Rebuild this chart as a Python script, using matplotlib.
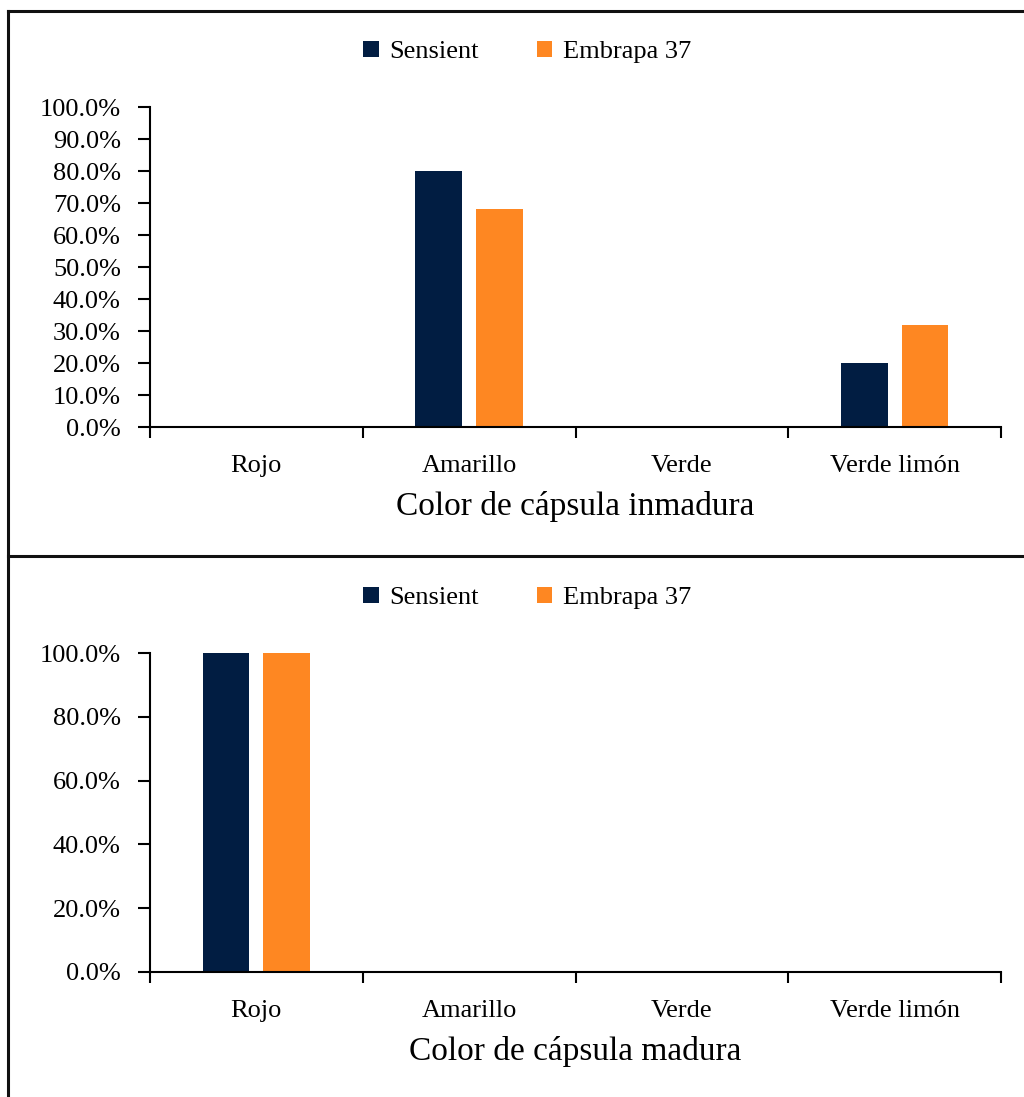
import matplotlib.pyplot as plt  # To draw the bar charts
from matplotlib.lines import Line2D  # To draw the frame around the panels
from matplotlib.ticker import FuncFormatter, FixedLocator  # To format the y axis
import numpy as np  # To place the bars

# Data: share of plants per capsule colour, for each variety
categories = ['Rojo', 'Amarillo', 'Verde', 'Verde limón']
varieties = ['Sensient', 'Embrapa 37']
inmadura_sensient = [0.0, 0.80, 0.0, 0.20]
inmadura_embrapa = [0.0, 0.68, 0.0, 0.32]
madura_sensient = [1.0, 0.0, 0.0, 0.0]
madura_embrapa = [1.0, 0.0, 0.0, 0.0]

colors = ['#011d42', '#fe8722']

plt.rcParams['font.family'] = ['Liberation Serif', 'DejaVu Serif']

fig = plt.figure(figsize=(10.24, 10.97), dpi=100)
W, H = 1024, 1097


def px_axes(left, top, right, bottom):
    """Build an axes from pixel coordinates of the figure"""
    return fig.add_axes([left / W, 1 - bottom / H, (right - left) / W, (bottom - top) / H])


def draw_panel(ax, sensient, embrapa, step, xlabel, legend_y):
    """Draw one grouped bar chart with its legend above"""
    x = np.arange(len(categories))
    width = 0.22
    offset = 0.143
    b1 = ax.bar(x - offset, sensient, width, color=colors[0], label=varieties[0])
    b2 = ax.bar(x + offset, embrapa, width, color=colors[1], label=varieties[1])

    ax.set_xlim(-0.5, len(categories) - 0.5)
    ax.set_ylim(0, 1)
    ax.yaxis.set_major_locator(FixedLocator(np.arange(0, 1.0001, step)))
    ax.yaxis.set_major_formatter(FuncFormatter(lambda v, p: f'{v * 100:.1f}%'))

    ax.set_xticks(x)
    ax.set_xticklabels(categories)
    ax.set_xticks(np.arange(-0.5, len(categories)), minor=True)
    ax.tick_params(axis='x', which='major', length=0, pad=20, labelsize=19)
    ax.tick_params(axis='x', which='minor', length=8, width=1.5, direction='out')
    ax.tick_params(axis='y', length=9, width=1.5, direction='out', pad=12, labelsize=19)

    for side in ['top', 'right']:
        ax.spines[side].set_visible(False)
    for side in ['left', 'bottom']:
        ax.spines[side].set_linewidth(1.5)

    ax.set_xlabel(xlabel, fontsize=24, labelpad=10)

    fig.legend(handles=[b1, b2], loc='center', bbox_to_anchor=(527 / W, 1 - legend_y / H),
               ncol=2, frameon=False, fontsize=19, handlelength=0.6, handleheight=0.6,
               handletextpad=0.4, columnspacing=2.2)


ax1 = px_axes(150, 107, 1001, 427)
draw_panel(ax1, inmadura_sensient, inmadura_embrapa, 0.1, 'Color de cápsula inmadura', 52)

ax2 = px_axes(150, 653, 1001, 972)
draw_panel(ax2, madura_sensient, madura_embrapa, 0.2, 'Color de cápsula madura', 598)

# Frame: top and left edges plus the separator between both panels
frame = dict(color='#111111', linewidth=2.2, transform=fig.transFigure)
fig.add_artist(Line2D([8 / W, 1], [1 - 11 / H, 1 - 11 / H], **frame))
fig.add_artist(Line2D([8 / W, 8 / W], [0, 1 - 11 / H], **frame))
fig.add_artist(Line2D([8 / W, 1], [1 - 556 / H, 1 - 556 / H], **frame))

fig.savefig('out.png', dpi=100)
